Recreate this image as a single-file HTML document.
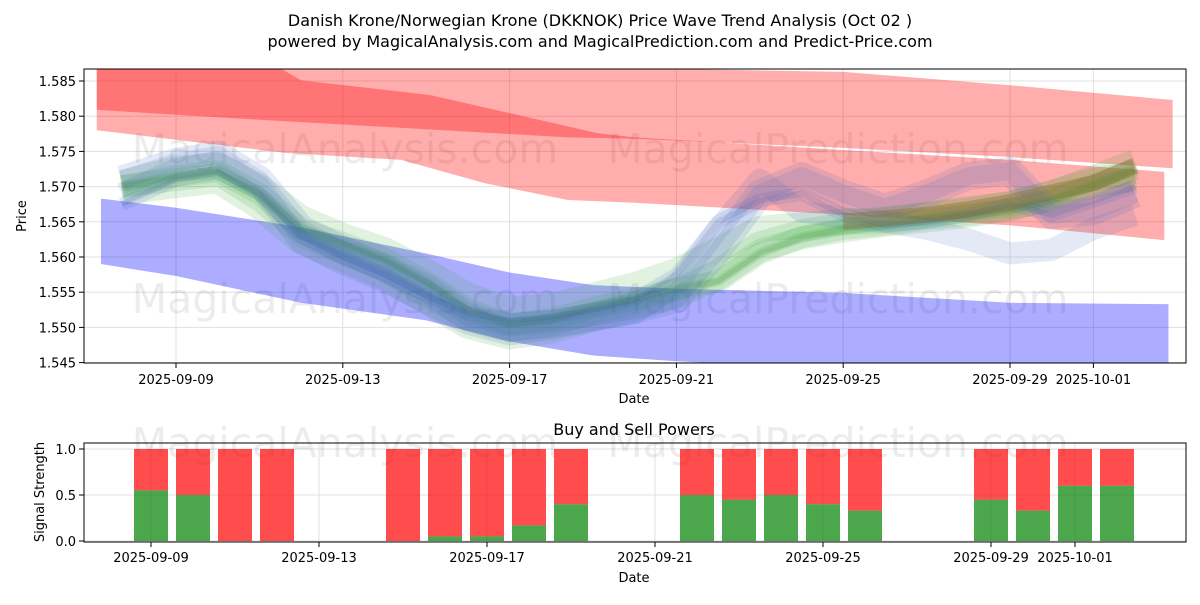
<!DOCTYPE html>
<html><head><meta charset="utf-8"><style>
body{margin:0;background:#fff;}
svg text{font-family:"DejaVu Sans","Liberation Sans",sans-serif;fill:#000;}
</style></head><body>
<svg id="c" width="1200" height="600" xmlns="http://www.w3.org/2000/svg">
<text x="600" y="26" font-size="16" text-anchor="middle">Danish Krone/Norwegian Krone (DKKNOK) Price Wave Trend Analysis (Oct 02 )</text>
<text x="600" y="47" font-size="16" text-anchor="middle">powered by MagicalAnalysis.com and MagicalPrediction.com and Predict-Price.com</text>
<g id="topg"></g>
<g id="botg"></g>
</svg>
<script>
// ---- data ----
const topTickDays=[0,4,8,12,16,20,22];
const topTickLabels=["2025-09-09","2025-09-13","2025-09-17","2025-09-21","2025-09-25","2025-09-29","2025-10-01"];
const yTicks=[1.545,1.550,1.555,1.560,1.565,1.570,1.575,1.580,1.585];
const redUpperDays=[-1.9,2,9.4,11,16,20,23.9];
const redUpperTop=[1.5885,1.5885,1.5870,1.5868,1.5863,1.5844,1.5823];
const redUpperBot=[1.5809,1.5795,1.5770,1.5768,1.5755,1.5742,1.5726];
const redLowerDays=[-1.9,2.0,3.0,6.1,10.1,11.0,16,20,23.7];
const redLowerTop=[1.5885,1.5885,1.5851,1.5830,1.5776,1.5770,1.5752,1.5738,1.5721];
const redLowerBotDays=[-1.9,2.6,5.4,7.4,9.4,11.0,12.8,16,20,23.7];
const redLowerBot=[1.5780,1.5748,1.5738,1.5705,1.5681,1.5677,1.5671,1.5660,1.5645,1.5624];
const blueDays=[-1.8,0,3,6,8,10,12,16,20,23.8];
const blueTop=[1.5683,1.5670,1.5642,1.5605,1.5578,1.5560,1.5555,1.5549,1.5535,1.5533];
const blueBot=[1.5590,1.5573,1.5535,1.5510,1.5480,1.5460,1.5452,1.5440,1.5430,1.5420];
const waveDays=[-1.3,0,1,2,3,4,5,6,7,8,9,10,11,12,13,14,15,16,17,18,19,20,21,22,23];
const green1=[1.5700,1.5715,1.5722,1.5690,1.5640,1.5620,1.5598,1.5565,1.5525,1.5505,1.5512,1.5528,1.5540,1.5555,1.5565,1.5605,1.5628,1.5640,1.5646,1.5654,1.5660,1.5668,1.5680,1.5702,1.5725];
const green2=[1.5695,1.5705,1.5712,1.5675,1.5625,1.5600,1.5575,1.5540,1.5505,1.5490,1.5498,1.5515,1.5530,1.5548,1.5575,1.5615,1.5632,1.5642,1.5650,1.5656,1.5663,1.5672,1.5688,1.5705,1.5715];
const green3=[1.5705,1.5725,1.5730,1.5700,1.5655,1.5630,1.5610,1.5580,1.5545,1.5525,1.5530,1.5545,1.5560,1.5580,1.5610,1.5640,1.5645,1.5650,1.5652,1.5660,1.5668,1.5675,1.5690,1.5712,1.5735];
const blue1=[1.5710,1.5735,1.5745,1.5710,1.5640,1.5610,1.5585,1.5555,1.5515,1.5500,1.5505,1.5515,1.5525,1.5540,1.5610,1.5690,1.5715,1.5690,1.5670,1.5690,1.5715,1.5722,1.5660,1.5665,1.5690];
const blue2=[1.5690,1.5725,1.5735,1.5700,1.5620,1.5590,1.5565,1.5535,1.5505,1.5490,1.5498,1.5510,1.5520,1.5560,1.5640,1.5710,1.5665,1.5655,1.5650,1.5640,1.5625,1.5605,1.5610,1.5640,1.5660];
const blue3=[1.5675,1.5710,1.5720,1.5690,1.5630,1.5600,1.5575,1.5545,1.5520,1.5510,1.5515,1.5525,1.5540,1.5575,1.5650,1.5680,1.5690,1.5660,1.5645,1.5650,1.5660,1.5675,1.5660,1.5680,1.5700];
const brown1=[1.5650,1.5655,1.5660,1.5668,1.5678,1.5692,1.5705,1.5730];
const brownDays=[16,17,18,19,20,21,22,23];
const barDays=[0,1,2,3,6,7,8,9,10,13,14,15,16,17,20,21,22,23];
const buyVals=[0.55,0.5,0,0,0,0.05,0.05,0.17,0.4,0.5,0.45,0.5,0.4,0.33,0.45,0.33,0.6,0.6];
const botTickDays=[0,4,8,12,16,20,22];
const botYTicks=[0.0,0.5,1.0];

const NS="http://www.w3.org/2000/svg";
function mk(p,t,a){const e=document.createElementNS(NS,t);for(const k in a)e.setAttribute(k,a[k]);p.appendChild(e);return e;}
const X0=84,X1=1186,Y0=69,Y1=363;
const xT=d=>176+d*41.7;
const yT=p=>81+(1.585-p)*7040;
const xB=d=>151+d*42.0;
const yB=v=>541-v*92;
const topG=document.getElementById('topg'),botG=document.getElementById('botg');
const defs=mk(document.getElementById('c'),'defs',{});
const cp=mk(defs,'clipPath',{id:'cp'});mk(cp,'rect',{x:X0,y:Y0,width:X1-X0,height:Y1-Y0});

topTickDays.forEach((d,i)=>{
  const g=mk(topG,'line',{x1:xT(d),x2:xT(d),y1:Y0,y2:Y1,stroke:'#e0e0e0','stroke-width':1});
  
  mk(topG,'line',{x1:xT(d),x2:xT(d),y1:Y1,y2:Y1+5,stroke:'#000'});
  const t=mk(topG,'text',{x:xT(d),y:Y1+21,'font-size':13,'text-anchor':'middle'});t.textContent=topTickLabels[i];
  
});
yTicks.forEach(v=>{
  const g=mk(topG,'line',{x1:X0,x2:X1,y1:yT(v),y2:yT(v),stroke:'#e0e0e0','stroke-width':1});
  
  mk(topG,'line',{x1:X0-5,x2:X0,y1:yT(v),y2:yT(v),stroke:'#000'});
  const t=mk(topG,'text',{x:X0-8,y:yT(v)+5,'font-size':13,'text-anchor':'end'});t.textContent=v.toFixed(3);
  
});
const pl=mk(topG,'g',{'clip-path':'url(#cp)'});
[[345,163,'MagicalAnalysis.com'],[838,163,'MagicalPrediction.com'],[345,313,'MagicalAnalysis.com'],[838,313,'MagicalPrediction.com']].forEach(w=>{
  const t=mk(pl,'text',{x:w[0],y:w[1],'font-size':41,'text-anchor':'middle',style:'fill:#000;opacity:0.07'});t.textContent=w[2];
  
});
function band2(tdays,up,bdays,lo,fill,op,name){
  let pts=tdays.map((d,i)=>xT(d)+','+yT(up[i]));
  pts=pts.concat(bdays.map((d,i)=>xT(d)+','+yT(lo[i])).reverse());
  const e=mk(pl,'polygon',{points:pts.join(' '),fill:fill,'fill-opacity':op});
  
}
band2(redUpperDays,redUpperTop,redUpperDays,redUpperBot,'#ff0000',0.32,'red-band-upper');
band2(redLowerDays,redLowerTop,redLowerBotDays,redLowerBot,'#ff0000',0.32,'red-band-lower');
band2(blueDays,blueTop,blueDays,blueBot,'#0000ff',0.32,'blue-band');
function wave(days,vals,col,w,op,name){
  const e=mk(pl,'polyline',{points:days.map((d,i)=>xT(d)+','+yT(vals[i])).join(' '),fill:'none',stroke:col,'stroke-width':w,'stroke-opacity':op,'stroke-linejoin':'round'});
  
}
[[green1,22],[green2,16],[green3,26],[green1,10],[green2,30]].forEach(s=>wave(waveDays,s[0],'#2ca02c',s[1],0.14,'green-wave'));
[[blue1,18],[blue2,22],[blue3,14],[blue1,28]].forEach(s=>wave(waveDays,s[0],'#4060c0',s[1],0.14,'blue-wave'));
wave(waveDays,green1,'#3a7a3a',6,0.15,'green-wave-core');
wave(waveDays,blue3,'#3a5a9a',6,0.15,'blue-wave-core');
wave(brownDays,brown1,'#8a6a30',16,0.4,'brown-wave');
mk(topG,'rect',{x:X0,y:Y0,width:X1-X0,height:Y1-Y0,fill:'none',stroke:'#000','stroke-width':1});
let t=mk(topG,'text',{x:634,y:403,'font-size':13,'text-anchor':'middle'});t.textContent='Date';

t=mk(topG,'text',{x:0,y:0,'font-size':13,'text-anchor':'middle',transform:'translate(26,216) rotate(-90)'});t.textContent='Price';


const B0=443,B1=542;
t=mk(botG,'text',{x:634,y:435,'font-size':16,'text-anchor':'middle'});t.textContent='Buy and Sell Powers';

botYTicks.forEach(v=>{
  const g=mk(botG,'line',{x1:X0,x2:X1,y1:yB(v),y2:yB(v),stroke:'#e0e0e0'});
  
  mk(botG,'line',{x1:X0-5,x2:X0,y1:yB(v),y2:yB(v),stroke:'#000'});
  const tt=mk(botG,'text',{x:X0-8,y:yB(v)+5,'font-size':13,'text-anchor':'end'});tt.textContent=v.toFixed(1);
  
});
botTickDays.forEach((d,i)=>{
  const g=mk(botG,'line',{x1:xB(d),x2:xB(d),y1:B0,y2:B1,stroke:'#e0e0e0'});
  
  mk(botG,'line',{x1:xB(d),x2:xB(d),y1:B1,y2:B1+5,stroke:'#000'});
  const tt=mk(botG,'text',{x:xB(d),y:B1+20,'font-size':13,'text-anchor':'middle'});tt.textContent=topTickLabels[i];
  
});
[[345,457,'MagicalAnalysis.com'],[838,457,'MagicalPrediction.com']].forEach(w=>{
  const tt=mk(botG,'text',{x:w[0],y:w[1],'font-size':41,'text-anchor':'middle',style:'fill:#000;opacity:0.07'});tt.textContent=w[2];
  
});
barDays.forEach((d,i)=>{
  const x=xB(d)-17,v=buyVals[i];
  const r=mk(botG,'rect',{x:x,y:yB(1),width:34,height:yB(v)-yB(1),fill:'#ff0000','fill-opacity':0.7});
  
  const g=mk(botG,'rect',{x:x,y:yB(v),width:34,height:yB(0)-yB(v),fill:'#008000','fill-opacity':0.7});
  
});
mk(botG,'rect',{x:X0,y:B0,width:X1-X0,height:B1-B0,fill:'none',stroke:'#000'});
t=mk(botG,'text',{x:634,y:582,'font-size':13,'text-anchor':'middle'});t.textContent='Date';

t=mk(botG,'text',{x:0,y:0,'font-size':13,'text-anchor':'middle',transform:'translate(44,492) rotate(-90)'});t.textContent='Signal Strength';

</script>
</body></html>
